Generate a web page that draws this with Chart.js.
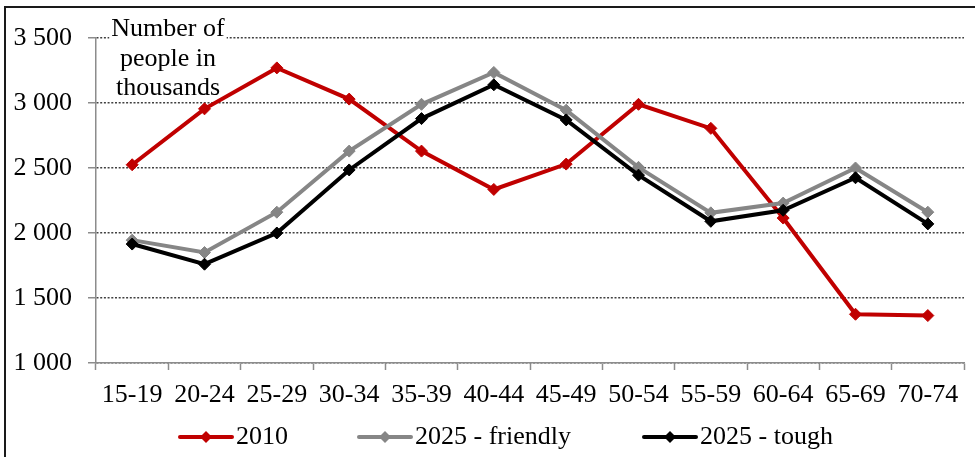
<!DOCTYPE html>
<html>
<head>
<meta charset="utf-8">
<script src="https://cdn.jsdelivr.net/npm/chart.js@4.4.1/dist/chart.umd.min.js"></script>
<style>
    html, body { margin: 0; padding: 0; background: #fff; }
    #wrap { width: 975px; height: 457px; }
</style>
</head>
<body>
<div id="wrap"><canvas id="lineChart" width="975" height="457"></canvas></div>
<script>
// datos
const ageGroups = ['15-19', '20-24', '25-29', '30-34', '35-39', '40-44', '45-49', '50-54', '55-59', '60-64', '65-69', '70-74'];
const values2010 = [2525, 2955, 3270, 3030, 2630, 2335, 2530, 2990, 2805, 2115, 1375, 1365];
const valuesFriendly = [1945, 1850, 2160, 2630, 2990, 3235, 2945, 2505, 2155, 2230, 2500, 2160];
const valuesTough = [1915, 1760, 2000, 2485, 2880, 3140, 2870, 2445, 2090, 2175, 2425, 2070];
const seriesNames = ['2010', '2025 - friendly', '2025 - tough'];
const seriesColors = ['#C00000', '#868686', '#000000'];
const axisTitle = ['Number of', 'people in', 'thousands'];

const FONT = '"Liberation Serif", "Times New Roman", serif';
const legendX = [178, 357, 642];

function fmtThousands(v) {
    return String(v).replace(/\B(?=(\d{3})+(?!\d))/g, ' ');
}

function makeDataset(label, data, color, order) {
    return {
        label: label,
        data: data,
        borderColor: color,
        backgroundColor: color,
        borderWidth: 4,
        pointStyle: 'rectRot',
        pointRadius: 6,
        pointBorderWidth: 1,
        pointBackgroundColor: color,
        pointBorderColor: color,
        tension: 0,
        order: order
    };
}

const framePlugin = {
    id: 'frame',
    beforeDatasetsDraw(chart) {
        const ctx = chart.ctx;
        ctx.save();
        ctx.font = '26px ' + FONT;
        ctx.textAlign = 'center';
        ctx.textBaseline = 'middle';
        const w = ctx.measureText(axisTitle[0]).width;
        ctx.fillStyle = '#fff';
        ctx.fillRect(168 - w / 2 - 2, 14, w + 4, 27);
        ctx.fillStyle = '#000';
        [29, 59, 88].forEach((y, i) => ctx.fillText(axisTitle[i], 168, y));
        ctx.restore();
    },
    afterDraw(chart) {
        const ctx = chart.ctx;
        ctx.save();
        // marco exterior
        ctx.strokeStyle = '#1a1a1a';
        ctx.lineWidth = 2;
        ctx.beginPath();
        ctx.moveTo(5, 457);
        ctx.lineTo(5, 7);
        ctx.lineTo(975, 7);
        ctx.stroke();

        // leyenda
        ctx.font = '26px ' + FONT;
        ctx.textBaseline = 'middle';
        ctx.textAlign = 'left';
        const y = 437;
        chart.data.datasets.forEach((ds, i) => {
            const x = legendX[i];
            ctx.strokeStyle = ds.borderColor;
            ctx.lineWidth = 4;
            ctx.lineCap = 'round';
            ctx.beginPath();
            ctx.moveTo(x + 2, y);
            ctx.lineTo(x + 54, y);
            ctx.stroke();
            ctx.fillStyle = ds.borderColor;
            ctx.beginPath();
            ctx.moveTo(x + 28, y - 6);
            ctx.lineTo(x + 34, y);
            ctx.lineTo(x + 28, y + 6);
            ctx.lineTo(x + 22, y);
            ctx.closePath();
            ctx.fill();
            ctx.fillStyle = '#000';
            ctx.fillText(ds.label, x + 58, y);
        });
        ctx.restore();
    }
};

new Chart(document.getElementById('lineChart').getContext('2d'), {
    type: 'line',
    data: {
        labels: ageGroups,
        datasets: [
            makeDataset(seriesNames[0], values2010, seriesColors[0], 2),
            makeDataset(seriesNames[1], valuesFriendly, seriesColors[1], 1),
            makeDataset(seriesNames[2], valuesTough, seriesColors[2], 0)
        ]
    },
    options: {
        responsive: false,
        animation: false,
        devicePixelRatio: 1,
        layout: { padding: { top: 38, right: 11, bottom: 0, left: 0 } },
        plugins: {
            legend: { display: false },
            tooltip: { enabled: false }
        },
        scales: {
            x: {
                offset: true,
                afterFit: (scale) => { scale.height = 94; },
                grid: {
                    offset: true,
                    drawOnChartArea: false,
                    drawTicks: true,
                    tickLength: 7,
                    tickColor: '#8c8c8c',
                    tickWidth: 1.5
                },
                border: { color: '#8c8c8c', width: 1.5 },
                ticks: {
                    color: '#000',
                    padding: 10,
                    maxRotation: 0,
                    autoSkip: false,
                    font: { family: FONT, size: 26 }
                }
            },
            y: {
                min: 1000,
                max: 3500,
                afterFit: (scale) => { scale.width = 96; },
                grid: {
                    color: '#404040',
                    lineWidth: 1.4,
                    tickLength: 8,
                    tickColor: '#8c8c8c',
                    tickWidth: 1.5,
                    tickBorderDash: [1, 0]
                },
                border: { color: '#8c8c8c', width: 1.5, dash: [2, 1.7] },
                ticks: {
                    stepSize: 500,
                    color: '#000',
                    padding: 16,
                    font: { family: FONT, size: 26 },
                    callback: (v) => fmtThousands(v)
                }
            }
        }
    },
    plugins: [framePlugin]
});
</script>
</body>
</html>
